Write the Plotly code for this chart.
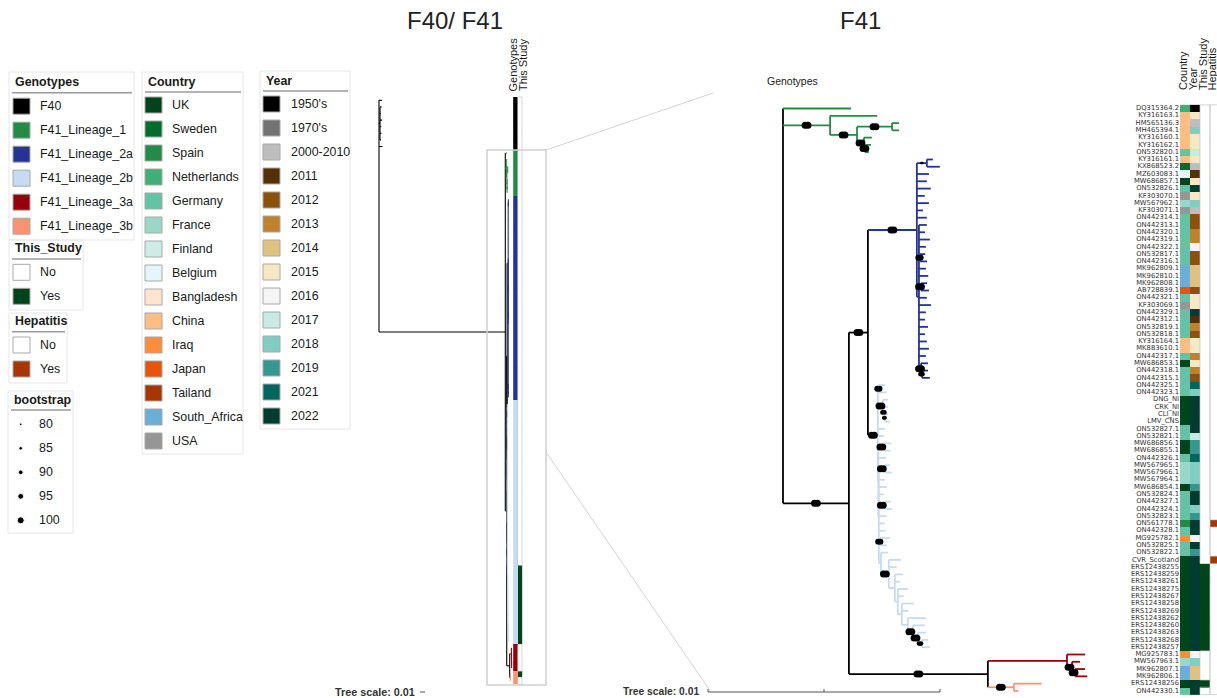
import sys
import plotly.graph_objects as go

W, H = 1217, 698
FONT = "Liberation Sans, Arial, Helvetica, sans-serif"
LABEL_FONT = "DejaVu Sans, Verdana, sans-serif"

# ---------------- legend categories & colours ----------------
GENOTYPES = ["F40", "F41_Lineage_1", "F41_Lineage_2a", "F41_Lineage_2b", "F41_Lineage_3a", "F41_Lineage_3b"]
GENOTYPE_COLORS = ["#000000", "#238b45", "#253494", "#c6dbef", "#99000d", "#fc9272"]
STUDY = ["No", "Yes"]
STUDY_COLORS = ["#ffffff", "#00441b"]
HEPATITIS = ["No", "Yes"]
HEPATITIS_COLORS = ["#ffffff", "#a63603"]
BOOTSTRAP = [80, 85, 90, 95, 100]
COUNTRIES = ["UK", "Sweden", "Spain", "Netherlands", "Germany", "France", "Finland", "Belgium",
             "Bangladesh", "China", "Iraq", "Japan", "Tailand", "South_Africa", "USA"]
COUNTRY_COLORS = ["#00441b", "#006d2c", "#238b45", "#41ae76", "#66c2a4", "#99d8c9", "#ccece6", "#e5f5f9",
                  "#fee6ce", "#fdbe85", "#fd8d3c", "#e6550d", "#a63603", "#6baed6", "#969696"]
YEARS = ["1950's", "1970's", "2000-2010", "2011", "2012", "2013", "2014", "2015", "2016", "2017",
         "2018", "2019", "2021", "2022"]
YEAR_COLORS = ["#000000", "#737373", "#bdbdbd", "#543005", "#8c510a", "#bf812d", "#dfc27d", "#f6e8c3",
               "#f5f5f5", "#c7eae5", "#80cdc1", "#35978f", "#01665e", "#003c30"]

# ---------------- F41 tips (top to bottom) ----------------
TIP_NAMES = [
    "DQ315364.2", "KY316163.1", "HM565136.3", "MH465394.1", "KY316160.1", "KY316162.1", "ON532820.1",
    "KY316161.1", "KX868523.2", "MZ603083.1", "MW686857.1", "ON532826.1", "KF303070.1", "MW567962.1",
    "KF303071.1", "ON442314.1", "ON442313.1", "ON442320.1", "ON442319.1", "ON442322.1", "ON532817.1",
    "ON442316.1", "MK962809.1", "MK962810.1", "MK962808.1", "AB728839.1", "ON442321.1", "KF303069.1",
    "ON442329.1", "ON442312.1", "ON532819.1", "ON532818.1", "KY316164.1", "MK883610.1", "ON442317.1",
    "MW686853.1", "ON442318.1", "ON442315.1", "ON442325.1", "ON442323.1", "DNG_NI", "CRK_NI", "CLI_NI",
    "LMV_CNS", "ON532827.1", "ON532821.1", "MW686856.1", "MW686855.1", "ON442326.1", "MW567965.1",
    "MW567966.1", "MW567964.1", "MW686854.1", "ON532824.1", "ON442327.1", "ON442324.1", "ON532823.1",
    "ON561778.1", "ON442328.1", "MG925782.1", "ON532825.1", "ON532822.1", "CVR_Scotland",
    "ERS12438255", "ERS12438259", "ERS12438261", "ERS12438275", "ERS12438267", "ERS12438258",
    "ERS12438269", "ERS12438262", "ERS12438260", "ERS12438263", "ERS12438268", "ERS12438257",
    "MG925783.1", "MW567963.1", "MK962807.1", "MK962806.1", "ERS12438256", "ON442330.1"]

# lineage code per tip (F41_Lineage_<code>)
TIP_LINEAGE = [
    "1", "1", "1", "1", "1", "1", "1",
    "2a", "2a", "2a", "2a", "2a", "2a", "2a", "2a", "2a", "2a", "2a", "2a", "2a", "2a", "2a",
    "2a", "2a", "2a", "2a", "2a", "2a", "2a", "2a", "2a", "2a", "2a", "2a", "2a", "2a", "2a", "2a",
    "2b", "2b", "2b", "2b", "2b", "2b", "2b", "2b", "2b", "2b", "2b", "2b", "2b", "2b", "2b", "2b",
    "2b", "2b", "2b", "2b", "2b", "2b", "2b", "2b", "2b", "2b", "2b", "2b", "2b", "2b", "2b", "2b",
    "2b", "2b", "2b", "2b", "2b",
    "3a", "3a", "3a", "3a", "3b", "3b"]

TIP_COUNTRY = [
    "Netherlands", "China", "China", "China", "China", "China", "Germany", "China", "Sweden", "Belgium",
    "UK", "Germany", "USA", "France", "USA", "Germany", "Germany", "Germany", "Germany", "Germany",
    "Germany", "Germany", "South_Africa", "South_Africa", "South_Africa", "Japan", "Germany", "USA", "Germany", "Germany",
    "Germany", "Germany", "China", "China", "Germany", "UK", "Germany", "Germany", "Germany", "Germany",
    "UK", "UK", "UK", "UK", "Germany", "Germany", "UK", "UK", "Germany", "France",
    "France", "France", "UK", "Germany", "Germany", "Germany", "Germany", "Spain", "Germany", "Iraq",
    "Germany", "Germany", "UK", "UK", "UK", "UK", "UK", "UK", "UK", "UK",
    "UK", "UK", "UK", "UK", "UK", "Iraq", "France", "South_Africa", "South_Africa", "UK",
    "Germany"]

TIP_YEAR = [
    "1950's", "2015", "2000-2010", "2018", "2015", "2015", "2017", "2015", "2000-2010", "2011",
    "2015", "2022", "2015", "2018", "2000-2010", "2012", "2012", "2013", "2013", "2016",
    "2012", "2012", "2014", "2014", "2014", "2012", "2015", "2015", "2022", "2011",
    "2013", "2012", "2015", "2015", "2013", "2015", "2013", "2012", "2021", "2018",
    "2022", "2022", "2022", "2022", "2022", "2017", "2019", "2019", "2021", "2018",
    "2018", "2018", "2019", "2022", "2022", "2018", "2019", "2022", "2022", "2016",
    "2022", "2019", "2022", "2022", "2022", "2022", "2022", "2022", "2022", "2022",
    "2022", "2022", "2022", "2022", "2022", "2016", "2018", "2014", "2014", "2022",
    "2022"]

TIP_STUDY = [
    "No", "No", "No", "No", "No", "No", "No", "No", "No", "No",
    "No", "No", "No", "No", "No", "No", "No", "No", "No", "No",
    "No", "No", "No", "No", "No", "No", "No", "No", "No", "No",
    "No", "No", "No", "No", "No", "No", "No", "No", "No", "No",
    "No", "No", "No", "No", "No", "No", "No", "No", "No", "No",
    "No", "No", "No", "No", "No", "No", "No", "No", "No", "No",
    "No", "No", "No", "Yes", "Yes", "Yes", "Yes", "Yes", "Yes", "Yes",
    "Yes", "Yes", "Yes", "Yes", "Yes", "No", "No", "No", "No", "Yes",
    "No"]

TIP_HEPATITIS = [
    "No", "No", "No", "No", "No", "No", "No", "No", "No", "No",
    "No", "No", "No", "No", "No", "No", "No", "No", "No", "No",
    "No", "No", "No", "No", "No", "No", "No", "No", "No", "No",
    "No", "No", "No", "No", "No", "No", "No", "No", "No", "No",
    "No", "No", "No", "No", "No", "No", "No", "No", "No", "No",
    "No", "No", "No", "No", "No", "No", "No", "Yes", "No", "No",
    "No", "No", "Yes", "No", "No", "No", "No", "No", "No", "No",
    "No", "No", "No", "No", "No", "No", "No", "No", "No", "No",
    "No"]

F40_TIPS = ["F40_1", "F40_2", "F40_3", "F40_4", "F40_5", "F40_6", "F40_7", "F40_8"]

# ---------------- trees (branch lengths in 1e-4 substitutions/site, labels = bootstrap) ----------------
BL_UNIT = 1e-4
F41_NEWICK = """
(DQ315364.2:29.3,
 (KY316163.1:20.3,((HM565136.3:3.0,MH465394.1:3.0)100:15.1,
   (KY316160.1:3.4,(KY316162.1:2.6,ON532820.1:1.7)100:0.4)100:3.0)100:11.6)100:20.3,
 (
  (
   ((KY316161.1:2.6,KX868523.2:5.6)80:4.3,MZ603083.1:5.2,MW686857.1:4.3,ON532826.1:6.0,KF303070.1:3.4,
    MW567962.1:5.2,KF303071.1:2.6,ON442314.1:4.3,
    (ON442313.1:3.4,ON442320.1:2.6,ON442319.1:4.7,ON442322.1:3.0,(ON532817.1:2.2,ON442316.1:3.0)95:0.5,
     MK962809.1:3.0,MK962810.1:4.0,(MK962808.1:2.6,AB728839.1:3.4)100:0.9,ON442321.1:3.4,KF303069.1:5.2,
     ON442329.1:3.0,ON442312.1:2.6,ON532819.1:3.9,ON532818.1:2.6,KY316164.1:3.4,MK883610.1:4.3,
     ON442317.1:3.0,(MW686853.1:3.0,(ON442318.1:2.6,ON442315.1:3.4)90:0.4)100:0.9):0.9
   )100:21.1,
   ((ON442325.1:2.6,ON442323.1:3.4)95:0.4,(DNG_NI:2.2,(CRK_NI:1.7,(CLI_NI:1.3,LMV_CNS:2.2)85:0.4)90:0.4)100:2.2,
    ON532827.1:3.0,ON532821.1:2.6,
    ((MW686856.1:3.0,MW686855.1:2.6)100:2.6,ON442326.1:3.4,
     ((MW567965.1:2.2,MW567966.1:3.0)100:2.6,MW567964.1:2.6,MW686854.1:3.4,ON532824.1:2.2,
      (ON442327.1:2.6,ON442324.1:3.0)100:2.6,ON532823.1:3.4,ON561778.1:2.6,ON442328.1:3.0,
      (MG925782.1:4.3,ON532825.1:3.0)95:0.4,
      (ON532822.1:3.0,
       (CVR_Scotland:5.2,ERS12438255:3.4,(ERS12438259:3.4,ERS12438261:2.2,(ERS12438275:4.3,ERS12438267:2.6,
        (ERS12438258:5.2,ERS12438269:3.0,(ERS12438262:7.8,(ERS12438260:5.2,(ERS12438263:3.4,
        (ERS12438268:2.6,ERS12438257:3.4)90:1.7)100:2.2)100:2.2):2.6):1.7):1.3):2.6)100:3.4
      ):0.9
     ):0.2
    ):0.2
   )100:4.3
  )100:8.2,
  ((MG925783.1:7.8,(MW567963.1:3.4,(MK962807.1:4.3,MK962806.1:5.2)100:1.3)100:2.2):34.1,
   (ERS12438256:12.0,ON442330.1:2.0)100:11.2)100:59.9
 )100:28.4
)
"""
FULL_NEWICK = ("(F40_1:60,(F40_2:30,F40_3:20,F40_4:40,F40_5:25,F40_6:30,F40_7:20)100:20,F40_8:70,"
               + F41_NEWICK.strip() + ":2526)")

TREE_SCALE = 0.01

# ---------------- helpers ----------------
def parse_newick(text):
    s = "".join(text.split())
    pos = 0

    def node():
        nonlocal pos
        n = {"ch": [], "name": None, "bl": 0.0, "boot": None}
        if s[pos] == "(":
            pos += 1
            n["ch"].append(node())
            while s[pos] == ",":
                pos += 1
                n["ch"].append(node())
            pos += 1
        start = pos
        while pos < len(s) and s[pos] not in ",():;":
            pos += 1
        lab = s[start:pos]
        if n["ch"]:
            n["boot"] = float(lab) if lab else None
        else:
            n["name"] = lab
        if pos < len(s) and s[pos] == ":":
            pos += 1
            start = pos
            while pos < len(s) and s[pos] not in ",();":
                pos += 1
            n["bl"] = float(s[start:pos])
        return n
    return node()


def layout_tree(root):
    rows = []

    def rec(n, x):
        n["x"] = x
        if not n["ch"]:
            n["y"] = len(rows)
            rows.append(n["name"])
            n["tips"] = [n["name"]]
        else:
            for c in n["ch"]:
                rec(c, x + c["bl"] * BL_UNIT)
            n["y"] = (n["ch"][0]["y"] + n["ch"][-1]["y"]) / 2
            n["tips"] = [t for c in n["ch"] for t in c["tips"]]
    rec(root, 0.0)
    return rows


GENO_OF = {}
for name, lin in zip(TIP_NAMES, TIP_LINEAGE):
    GENO_OF[name] = "F41_Lineage_" + lin
for name in F40_TIPS:
    GENO_OF[name] = "F40"
GENO_COLOR = dict(zip(GENOTYPES, GENOTYPE_COLORS))
COUNTRY_OF = dict(zip(TIP_NAMES, TIP_COUNTRY))
YEAR_OF = dict(zip(TIP_NAMES, TIP_YEAR))
STUDY_OF = dict(zip(TIP_NAMES, TIP_STUDY))
STUDY_OF.update({n: "No" for n in F40_TIPS})
HEP_OF = dict(zip(TIP_NAMES, TIP_HEPATITIS))

fig = go.Figure()


def add_tree(root, xa, ya, width, dot_size=None, dot_dx=0.0):
    segs = {}
    dx, dy, ds = [], [], []

    def colour(n):
        g = {GENO_OF[t] for t in n["tips"]}
        return GENO_COLOR[next(iter(g))] if len(g) == 1 else "#000000"

    def seg(c, x0, y0, x1, y1):
        xs, ys = segs.setdefault(c, ([], []))
        xs.extend([x0, x1, None])
        ys.extend([y0, y1, None])

    def rec(n, parent):
        c = colour(n)
        if parent is not None:
            seg(c, parent["x"], n["y"], n["x"], n["y"])
            if dot_size and n["boot"] is not None and n["boot"] >= 80:
                dx.append((parent["x"] + n["x"]) / 2)
                dy.append(n["y"])
                ds.append(dot_size(n["boot"]))
        if n["ch"]:
            seg(c, n["x"], n["ch"][0]["y"], n["x"], n["ch"][-1]["y"])
            for ch in n["ch"]:
                rec(ch, n)
    rec(root, None)
    for c in sorted(segs, key=lambda k: k != "#000000"):
        xs, ys = segs[c]
        fig.add_trace(go.Scatter(x=xs, y=ys, mode="lines", xaxis=xa, yaxis=ya,
                                 line=dict(color=c, width=width), hoverinfo="skip", showlegend=False))
    if dot_size:
        # elliptical support symbols: two overlapping discs, offset horizontally
        for sgn in (-1, 1):
            fig.add_trace(go.Scatter(x=[v + sgn * dot_dx * s / 8 for v, s in zip(dx, ds)], y=dy,
                                     mode="markers", xaxis=xa, yaxis=ya,
                                     marker=dict(color="#000000", size=ds, opacity=1, line=dict(width=0)),
                                     hoverinfo="skip", showlegend=False))


def discrete_scale(colors):
    n = len(colors)
    sc = []
    for k, c in enumerate(colors):
        sc.append([k / n, c])
        sc.append([(k + 1) / n, c])
    return sc


def white_borders(zcols, white_flags, nrows):
    """edges around runs of white cells"""
    xs, ys = [], []
    for j, flags in zip(zcols, white_flags):
        for r in range(nrows):
            if not flags[r]:
                continue
            for xe in (j - 0.5, j + 0.5):
                xs += [xe, xe, None]
                ys += [r - 0.5, r + 0.5, None]
            if r == 0 or not flags[r - 1]:
                xs += [j - 0.5, j + 0.5, None]
                ys += [r - 0.5, r - 0.5, None]
            if r == nrows - 1 or not flags[r + 1]:
                xs += [j - 0.5, j + 0.5, None]
                ys += [r + 0.5, r + 0.5, None]
    return xs, ys


# ---------------- pixel geometry of the two panels ----------------
L_ROOT_PX, L_PPU = 379.0, 500.0        # left tree: px of root, px per substitution/site
L_ROW0, L_ROWH = 100.3, 6.6
R_ROOT_PX, R_PPU = 783.0, 23200.0      # right tree
R_ROW0, R_ROWH = 108.5, 7.28
HM_X0, HM_W = 1185.0, 10.0             # right heatmap first column centre, column width
LS_X0, LS_W = 515.4, 4.4               # left strips

# ---------------- left tree ----------------
left_root = parse_newick(FULL_NEWICK)
left_rows = layout_tree(left_root)
add_tree(left_root, "x", "y", 1.1)

zl = []
gl_pal = GENOTYPE_COLORS + STUDY_COLORS
for t in left_rows:
    zl.append([GENOTYPES.index(GENO_OF[t]), len(GENOTYPES) + STUDY.index(STUDY_OF[t])])
fig.add_trace(go.Heatmap(z=zl, x=[0, 1], y=list(range(len(left_rows))), xaxis="x4", yaxis="y",
                         colorscale=discrete_scale(gl_pal), zmin=-0.5, zmax=len(gl_pal) - 0.5,
                         showscale=False, hoverinfo="skip"))
bx, by = white_borders([1], [[STUDY_OF[t] == "No" for t in left_rows]], len(left_rows))
fig.add_trace(go.Scatter(x=bx, y=by, mode="lines", xaxis="x4", yaxis="y",
                         line=dict(color="#c4c4c4", width=0.7), hoverinfo="skip", showlegend=False))

# ---------------- right tree (F41 only) ----------------
right_root = parse_newick(F41_NEWICK)
right_rows = layout_tree(right_root)
if right_rows != TIP_NAMES:
    print("warning: tip order differs from TIP_NAMES", file=sys.stderr)
add_tree(right_root, "x2", "y2", 1.8, dot_size=lambda b: 2.5 + (b - 80) / 20 * 4.5,
         dot_dx=1.6 / R_PPU)

pal = COUNTRY_COLORS + YEAR_COLORS + STUDY_COLORS + HEPATITIS_COLORS
o_year = len(COUNTRY_COLORS)
o_study = o_year + len(YEAR_COLORS)
o_hep = o_study + len(STUDY_COLORS)
zr = []
for t in right_rows:
    zr.append([COUNTRIES.index(COUNTRY_OF[t]), o_year + YEARS.index(YEAR_OF[t]),
               o_study + STUDY.index(STUDY_OF[t]), o_hep + HEPATITIS.index(HEP_OF[t])])
fig.add_trace(go.Heatmap(z=zr, x=[0, 1, 2, 3], y=list(range(len(right_rows))), xaxis="x3", yaxis="y2",
                         colorscale=discrete_scale(pal), zmin=-0.5, zmax=len(pal) - 0.5,
                         showscale=False, hoverinfo="skip"))
bx, by = white_borders([2, 3], [[STUDY_OF[t] == "No" for t in right_rows],
                                [HEP_OF[t] == "No" for t in right_rows]], len(right_rows))
fig.add_trace(go.Scatter(x=bx, y=by, mode="lines", xaxis="x3", yaxis="y2",
                         line=dict(color="#c4c4c4", width=0.7), hoverinfo="skip", showlegend=False))

# tip labels
fig.add_trace(go.Scatter(x=[-0.6] * len(right_rows), y=list(range(len(right_rows))), text=right_rows,
                         mode="text", textposition="middle left", xaxis="x3", yaxis="y2",
                         textfont=dict(family=LABEL_FONT, size=6.8, color="#333333"),
                         hoverinfo="skip", showlegend=False))

# ---------------- decorations (pixel axis x5/y5) ----------------
shapes = []
annotations = []


def text(x, y, s, size=12.4, bold=False, xanchor="left", angle=0, yanchor="middle", color="#1a1a1a"):
    annotations.append(dict(x=x, y=y, xref="x5", yref="y5", text=("<b>%s</b>" % s) if bold else s,
                            showarrow=False, xanchor=xanchor, yanchor=yanchor, textangle=angle,
                            font=dict(family=FONT, size=size, color=color)))


def rect(x0, y0, x1, y1, line="#e6e6e6", fill=None, width=1):
    shapes.append(dict(type="rect", xref="x5", yref="y5", x0=x0, y0=y0, x1=x1, y1=y1,
                       line=dict(color=line, width=width), fillcolor=fill or "rgba(0,0,0,0)"))


def line(x0, y0, x1, y1, color="#9a9a9a", width=1.5, xref="x5"):
    shapes.append(dict(type="line", xref=xref, yref="y5", x0=x0, y0=y0, x1=x1, y1=y1,
                       line=dict(color=color, width=width)))


def legend_block(box, title, title_y, ul_y, labels, colors, sw_x, lab_x, first_y, step=24):
    x0, y0, x1, y1 = box
    rect(x0, y0, x1, y1)
    text(x0 + 4, title_y, title, bold=True)
    line(x0 + 3, ul_y, x1 - 2, ul_y)
    for k, (lab, col) in enumerate(zip(labels, colors)):
        cy = first_y + k * step
        rect(sw_x, cy - 8, sw_x + 17, cy + 8, line="#a8a8a8", fill=col, width=1)
        text(lab_x, cy, lab)


legend_block((9, 72, 134, 240), "Genotypes", 82.3, 92.7, GENOTYPES, GENOTYPE_COLORS, 13, 38, 106.2)
legend_block((9, 240, 83, 310), "This_Study", 248.3, 259, STUDY, STUDY_COLORS, 13, 38, 272.3)
legend_block((9, 313, 67, 383), "Hepatitis", 321, 331.7, HEPATITIS, HEPATITIS_COLORS, 13, 38, 345)
legend_block((142, 72, 243, 454), "Country", 81.7, 92, COUNTRIES, COUNTRY_COLORS, 145, 169.5, 105)
legend_block((260, 71, 350, 429), "Year", 80.7, 91, YEARS, YEAR_COLORS, 263, 288.5, 104)

# bootstrap legend
rect(8, 391, 73, 533)
text(12, 400, "bootstrap", bold=True)
line(11, 410, 71, 410)
bs_y = [424.3 + 24 * k for k in range(len(BOOTSTRAP))]
fig.add_trace(go.Scatter(x=[20.7] * len(BOOTSTRAP), y=bs_y, mode="markers", xaxis="x5", yaxis="y5",
                         marker=dict(color="#000000", opacity=1,
                                     size=[2.5 + (b - 80) / 20 * 4.5 for b in BOOTSTRAP]),
                         hoverinfo="skip", showlegend=False))
for b, yy in zip(BOOTSTRAP, bs_y):
    text(36.7, yy, str(b))

# titles
text(455, 20, "F40/ F41", size=24, xanchor="center", color="#222222")
text(860, 20, "F41", size=24, xanchor="center", color="#222222")
text(765, 81, "Genotypes", size=10.5)

# column headers
for xx, s in [(512, "Genotypes"), (522.5, "This Study")]:
    text(xx, 93.5, s, size=11, xanchor="center", yanchor="bottom", angle=-90)
for xx, s in [(1183, "Country"), (1193, "Year"), (1202.5, "This Study"), (1211.5, "Hepatitis")]:
    text(xx, 92.5, s, size=11, xanchor="center", yanchor="bottom", angle=-90)

# zoom box and connector lines
rect(487, 150, 546, 685, line="#cfcfcf", width=1.5)
line(546, 150, 713, 93, color="#d4d4d4", width=1)
line(546, 452, 711, 692, color="#d4d4d4", width=1)

# scale bars
text(417, 691.5, "Tree scale: 0.01", size=10.8, bold=True, xanchor="right", color="#333333")
l_start = (420 - L_ROOT_PX) / L_PPU
shapes.append(dict(type="line", xref="x", yref="y5", x0=l_start, x1=l_start + TREE_SCALE, y0=692, y1=692,
                   line=dict(color="#555555", width=1)))
text(701, 691.5, "Tree scale: 0.01", size=10.3, bold=True, xanchor="right", color="#333333")
r_start = (708 - R_ROOT_PX) / R_PPU
shapes.append(dict(type="line", xref="x2", yref="y5", x0=r_start, x1=r_start + TREE_SCALE, y0=692, y1=692,
                   line=dict(color="#555555", width=1)))
for f in (0, 0.5, 1):
    xv = r_start + f * TREE_SCALE
    shapes.append(dict(type="line", xref="x2", yref="y5", x0=xv, x1=xv, y0=689, y1=692,
                       line=dict(color="#555555", width=1)))


def hidden(rng, anchor):
    return dict(visible=False, domain=[0, 1], range=rng, anchor=anchor, fixedrange=True)


fig.update_layout(
    width=W, height=H, margin=dict(l=0, r=0, t=0, b=0),
    paper_bgcolor="#ffffff", plot_bgcolor="rgba(0,0,0,0)", showlegend=False, hovermode=False,
    xaxis=hidden([-L_ROOT_PX / L_PPU, (W - L_ROOT_PX) / L_PPU], "y"),
    yaxis=hidden([(H - L_ROW0) / L_ROWH, -L_ROW0 / L_ROWH], "x"),
    xaxis2=hidden([-R_ROOT_PX / R_PPU, (W - R_ROOT_PX) / R_PPU], "y2"),
    yaxis2=hidden([(H - R_ROW0) / R_ROWH, -R_ROW0 / R_ROWH], "x2"),
    xaxis3=hidden([-HM_X0 / HM_W, (W - HM_X0) / HM_W], "y2"),
    xaxis4=hidden([-LS_X0 / LS_W, (W - LS_X0) / LS_W], "y"),
    xaxis5=hidden([0, W], "y5"),
    yaxis5=hidden([H, 0], "x5"),
    shapes=shapes, annotations=annotations,
)

fig.write_html("out.html", config={"displayModeBar": False, "staticPlot": True},
               post_script="document.body.style.margin='0px';document.body.style.overflow='hidden';")
